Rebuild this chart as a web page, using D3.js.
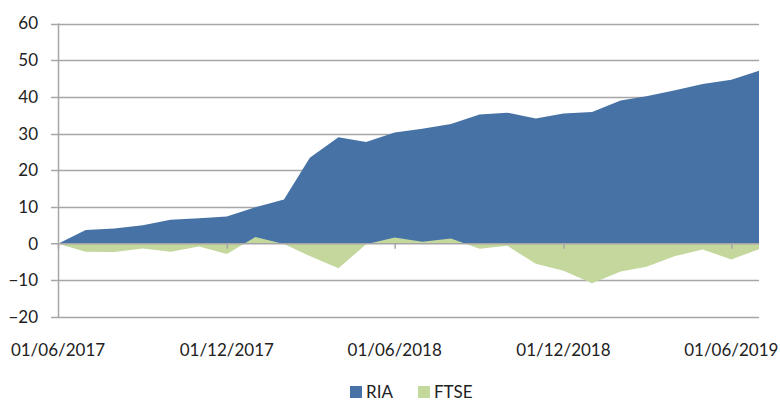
<!DOCTYPE html>
<html><head><meta charset="utf-8">
<script src="https://cdn.jsdelivr.net/npm/d3@7"></script>
<style>body{margin:0;background:#fff}</style>
</head><body>
<svg id="chart" width="780" height="401"></svg>
<script>
const dates = ["2017-06-01","2017-07-01","2017-08-01","2017-09-01","2017-10-01","2017-11-01","2017-12-01",
"2018-01-01","2018-02-01","2018-03-01","2018-04-01","2018-05-01","2018-06-01","2018-07-01","2018-08-01",
"2018-09-01","2018-10-01","2018-11-01","2018-12-01","2019-01-01","2019-02-01","2019-03-01","2019-04-01",
"2019-05-01","2019-06-01","2019-07-01"];
const ria = [0,3.7,4.1,5.0,6.5,6.9,7.4,9.9,12.0,23.4,29.0,27.7,30.3,31.3,32.6,35.2,35.7,34.1,35.5,35.9,39.0,40.2,41.8,43.5,44.7,47.1];
const ftse = [0,-2.2,-2.3,-1.3,-2.2,-0.8,-2.8,1.8,-0.1,-3.4,-6.7,-0.2,1.7,0.5,1.4,-1.4,-0.6,-5.5,-7.4,-10.8,-7.6,-6.3,-3.4,-1.6,-4.3,-1.5];
const yTicks = [-20,-10,0,10,20,30,40,50,60];
const xTickDates = ["2017-06-01","2017-12-01","2018-06-01","2018-12-01","2019-06-01"];
const seriesNames = ["RIA","FTSE"];
const colors = ["#4672a5","#c4d79c"];

const parse = d3.timeParse("%Y-%m-%d");
const fmt = d3.timeFormat("%d/%m/%Y");
const D = dates.map(parse);
const svg = d3.select("#chart");
const font = "Lato, 'Open Sans', sans-serif";

const x = d3.scaleTime().domain([D[0], D[D.length-1]]).range([58, 759]);
const y = d3.scaleLinear().domain([-20, 60]).range([317, 23.5]);

// gridlines
svg.append("g").selectAll("line").data(yTicks.filter(v=>v!==0)).join("line")
  .attr("x1", 51).attr("x2", 759)
  .attr("y1", d=>Math.round(y(d))+0.5).attr("y2", d=>Math.round(y(d))+0.5)
  .attr("stroke", "#a6a6a6").attr("stroke-width", 1.5);

// areas
const series = [ria, ftse];
series.forEach((vals, i) => {
  const area = d3.area().x((d,j)=>x(D[j])).y0(y(0)).y1(d=>y(d));
  svg.append("path").datum(vals).attr("d", area).attr("fill", colors[i]);
});

// y axis line
svg.append("line").attr("x1", 58.5).attr("x2", 58.5).attr("y1", y(60)).attr("y2", y(-20))
  .attr("stroke", "#a6a6a6").attr("stroke-width", 1.5);

// x axis (zero line)
const xAxis = d3.axisBottom(x).tickValues(xTickDates.map(parse)).tickSize(5).tickFormat("");
const gx = svg.append("g").attr("transform", `translate(0,${y(0)})`).call(xAxis);
gx.select(".domain").remove();
gx.selectAll(".tick line").attr("stroke", "#a6a6a6").attr("stroke-width", 1.5);
svg.append("line").attr("x1", 51).attr("x2", 759).attr("y1", y(0)).attr("y2", y(0))
  .attr("stroke", "#a6a6a6").attr("stroke-width", 1.5);

// y labels
const yAxis = d3.axisLeft(y).tickValues(yTicks).tickSize(0).tickPadding(0);
const gy = svg.append("g").attr("transform", "translate(38,0)").call(yAxis);
gy.select(".domain").remove();
gy.selectAll("text").attr("font-family", font).attr("font-size", 17).attr("fill", "#222");

// x labels
svg.append("g").selectAll("text").data(xTickDates.map(parse)).join("text")
  .attr("x", d=>x(d)).attr("y", 356).attr("text-anchor", "middle")
  .attr("font-family", font).attr("font-size", 17).attr("fill", "#222")
  .text(d=>fmt(d));

// legend
const lg = svg.append("g");
const lx = [350, 418];
seriesNames.forEach((n, i) => {
  lg.append("rect").attr("x", lx[i]).attr("y", 386).attr("width", 12).attr("height", 12).attr("fill", colors[i]);
  lg.append("text").attr("x", lx[i]+16).attr("y", 398).attr("font-family", font).attr("font-size", 17)
    .attr("fill", "#222").text(n);
});
</script>
</body></html>
